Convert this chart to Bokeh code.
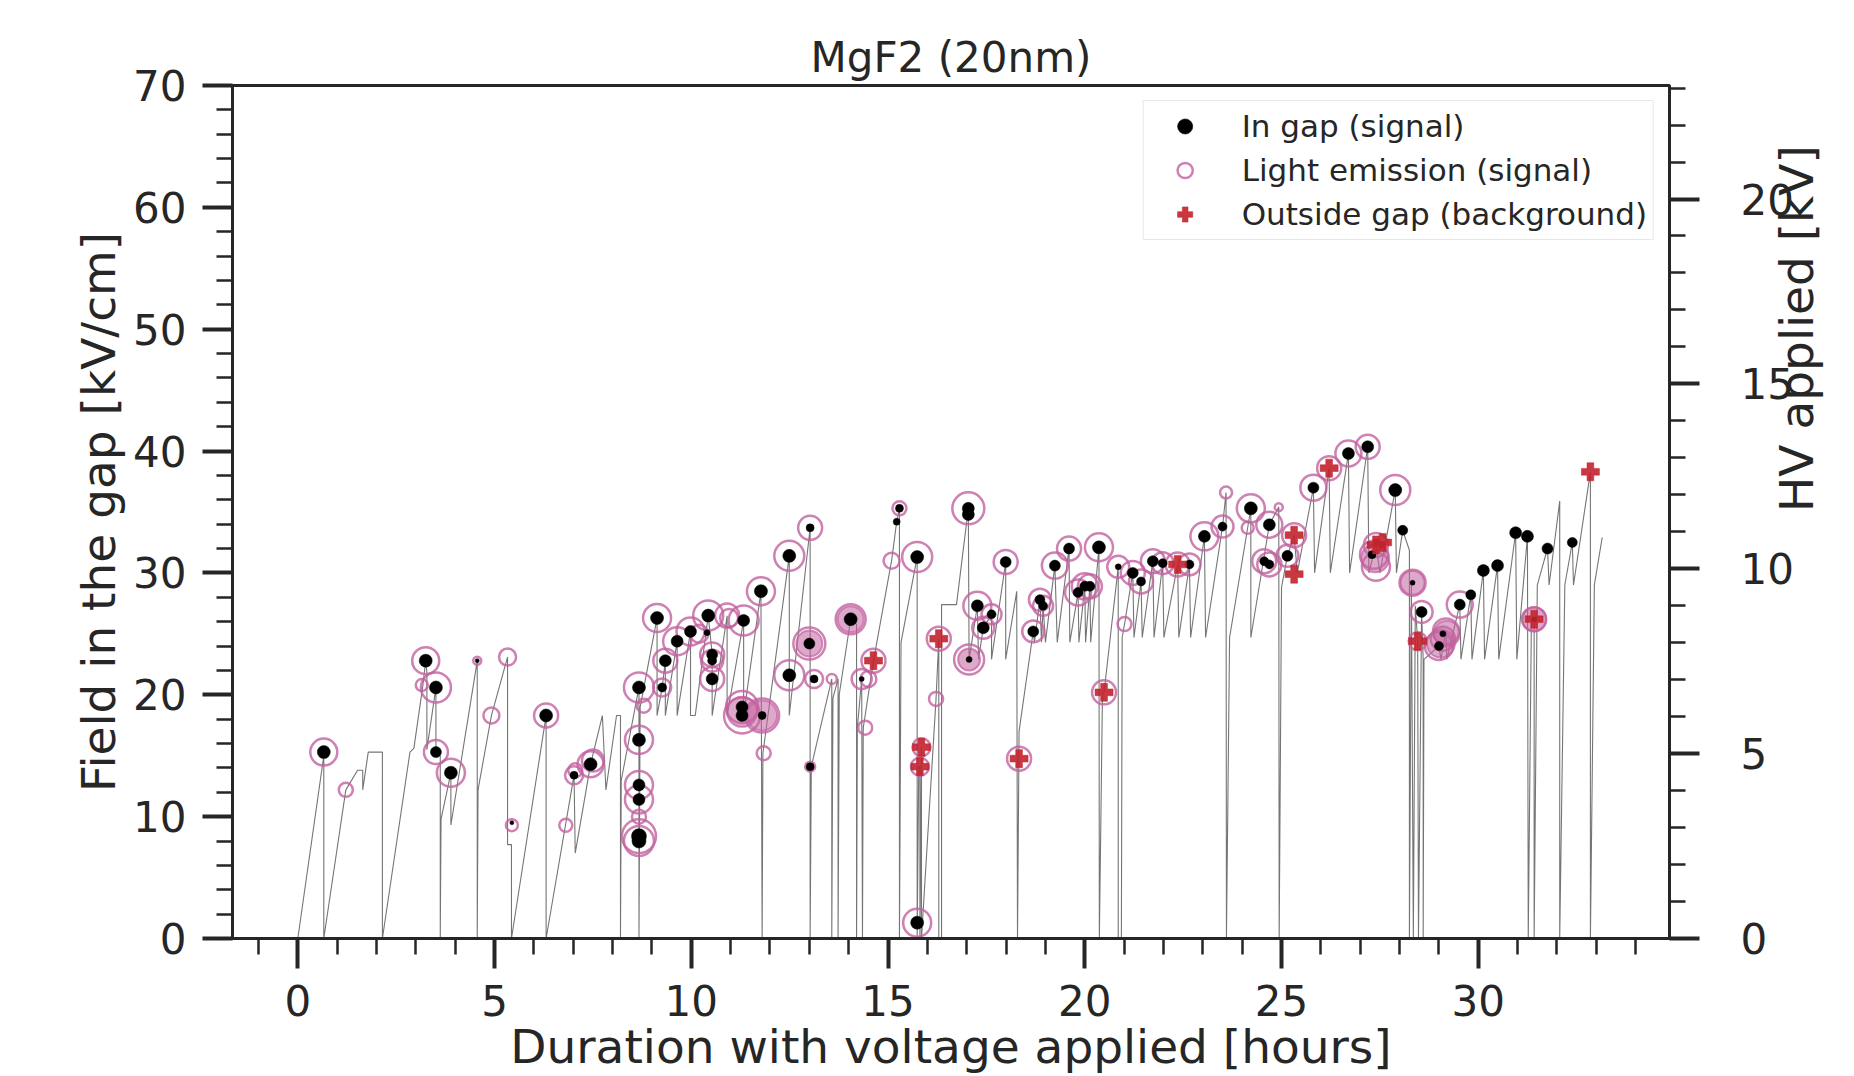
import math
from bokeh.plotting import figure
from bokeh.models import (Range1d, LinearAxis, SingleIntervalTicker, FixedTicker, Legend,
                          LegendItem)
from bokeh.embed import file_html
from bokeh.resources import INLINE

# ---------------- data ----------------
# HV trace: hours, kV
hv_hours = [0.00, 0.66, 0.66, 1.22, 1.52, 1.65, 1.65, 1.79, 2.15, 2.15, 2.85, 2.95, 3.18, 3.25,
            3.28, 3.28, 3.51, 3.51, 3.62, 3.62, 3.64, 3.89, 3.89, 4.56, 4.56, 4.58, 4.92, 5.33,
            5.33, 5.43, 5.43, 6.31, 6.31, 7.02, 7.05, 7.44, 7.74, 7.83, 8.10, 8.20, 8.20, 8.22,
            8.67, 8.67, 8.70, 9.13, 9.13, 9.26, 9.34, 9.34, 9.64, 9.64, 9.98, 9.98, 10.10, 10.43,
            10.53, 10.53, 10.91, 10.91, 11.33, 11.33, 11.77, 11.80, 11.82, 12.49, 12.49, 13.02,
            13.02, 13.05, 13.57, 13.57, 13.60, 13.73, 13.73, 13.76, 14.05, 14.20, 14.20, 14.22,
            14.33, 14.35, 14.37, 14.63, 15.09, 15.22, 15.29, 15.29, 15.33, 15.74, 15.74, 15.78,
            15.81, 15.81, 15.85, 15.85, 16.22, 16.29, 16.29, 16.36, 16.36, 16.74, 17.04, 17.06,
            17.27, 17.30, 17.42, 17.63, 17.63, 17.99, 17.99, 18.27, 18.29, 18.33, 18.69, 18.72,
            18.86, 18.90, 18.94, 19.00, 19.24, 19.30, 19.60, 19.62, 19.83, 19.85, 20.00, 20.02,
            20.13, 20.15, 20.36, 20.37, 20.45, 20.49, 20.85, 20.85, 20.93, 20.95, 21.01, 21.22,
            21.25, 21.43, 21.46, 21.73, 21.76, 21.98, 22.01, 22.36, 22.39, 22.66, 22.69, 23.04,
            23.07, 23.50, 23.59, 23.60, 23.68, 24.22, 24.22, 24.69, 24.93, 24.94, 25.00, 25.15,
            25.32, 25.40, 25.81, 25.84, 26.21, 26.24, 26.70, 26.73, 27.19, 27.22, 27.40, 27.50,
            27.89, 27.92, 28.08, 28.25, 28.25, 28.30, 28.35, 28.40, 28.46, 28.48, 28.56, 28.60,
            28.60, 28.62, 29.00, 29.05, 29.18, 29.20, 29.53, 29.56, 29.81, 29.84, 30.13, 30.16,
            30.49, 30.52, 30.95, 30.98, 31.25, 31.27, 31.35, 31.42, 31.42, 31.50, 31.76, 31.80,
            32.07, 32.07, 32.20, 32.39, 32.42, 32.85, 32.85, 32.95, 33.15]
hv_kv = [0.00, 4.94, 0.00, 4.02, 4.55, 4.55, 4.02, 5.04, 5.04, 0.00, 5.04, 5.14, 6.86, 7.51,
         7.20, 5.11, 6.79, 5.04, 4.94, 0.00, 3.23, 4.48, 3.07, 7.51, 0.00, 4.02, 6.03, 7.61,
         2.54, 2.54, 0.00, 6.03, 0.00, 4.42, 2.31, 4.71, 6.03, 4.02, 6.03, 6.03, 0.00, 4.28,
         6.79, 0.00, 6.26, 8.67, 6.03, 6.79, 7.51, 6.03, 8.04, 6.03, 8.31, 6.03, 6.03, 8.73,
         7.70, 6.03, 8.73, 6.03, 8.60, 6.03, 9.39, 0.00, 5.01, 10.35, 6.03, 11.11,
         0.00, 4.65, 7.02, 0.00, 6.50, 7.02, 0.00, 6.60, 8.64, 8.50, 0.00, 5.70,
         7.02, 0.00, 5.70, 7.51, 10.22, 11.27, 11.63, 0.00, 8.01, 10.32, 0.00, 4.65,
         4.65, 0.00, 5.17, 0.00, 6.48, 8.11, 0.00, 0.00, 9.03, 9.03, 11.63, 7.55,
         9.00, 7.55, 8.40, 8.77, 7.55, 10.18, 7.55, 9.39, 0.00, 5.60, 8.31, 8.01,
         9.16, 8.01, 9.00, 8.01, 10.09, 8.01, 10.55, 8.01, 9.36, 8.01, 9.53, 8.01,
         9.53, 8.01, 10.58, 0.00, 6.66, 6.66, 10.05, 0.00, 0.00, 8.14, 8.50, 9.89,
         8.14, 9.66, 8.14, 10.22, 8.14, 10.15, 8.14, 10.12, 8.14, 10.12, 8.14, 10.88,
         8.14, 11.14, 12.06, 0.00, 8.14, 11.63, 8.14, 11.19, 11.67, 0.00, 9.50, 10.35,
         10.91, 9.89, 12.19, 9.89, 12.72, 9.89, 13.12, 9.89, 13.30, 9.89, 10.65, 9.89,
         12.13, 9.89, 11.04, 10.50, 0.00, 9.60, 0.00, 9.00, 8.04, 0.00, 8.83, 7.55,
         0.00, 7.55, 7.91, 7.55, 8.31, 7.55, 9.03, 7.55, 9.29, 7.55, 9.95, 7.55,
         10.09, 7.55, 10.98, 7.55, 10.88, 0.00, 8.60, 8.64, 0.00, 9.56, 10.55, 9.56,
         11.83, 0.00, 9.56, 10.71, 9.56, 12.62, 0.00, 9.56, 10.85]

# In gap (signal): hours, field [kV/cm], marker size
gap_hours = [0.66, 3.25, 3.51, 3.51, 3.89, 4.56, 5.44, 6.31, 7.02, 7.44, 8.67, 8.67, 8.67, 8.67,
             8.67, 8.67, 9.13, 9.26, 9.34, 9.64, 9.98, 10.43, 10.40, 10.53, 10.53, 10.53, 11.33,
             11.29, 11.29, 11.80, 11.77, 12.49, 12.49, 13.02, 13.00, 13.12, 13.02, 14.05, 14.33,
             15.29, 15.22, 15.74, 15.74, 17.04, 17.04, 17.06, 17.27, 17.42, 17.63, 17.99, 18.69,
             18.86, 18.94, 19.24, 19.60, 19.83, 20.00, 20.13, 20.36, 20.85, 21.22, 21.43, 21.73,
             21.98, 22.66, 23.04, 23.50, 24.22, 24.69, 24.56, 24.69, 25.15, 25.81, 26.70, 27.19,
             27.30, 27.89, 28.08, 28.33, 28.56, 29.00, 29.10, 29.53, 29.81, 30.13, 30.49, 30.95,
             31.25, 31.42, 31.76, 32.39]
gap_field = [15.3, 22.8, 20.6, 15.3, 13.6, 22.8, 9.5, 18.3, 13.4, 14.3, 20.6, 16.3, 12.6, 11.4,
             8.4, 8.0, 26.3, 20.6, 22.8, 24.4, 25.2, 26.5, 25.1, 23.3, 22.8, 21.3, 26.1,
             19.0, 18.3, 18.3, 28.5, 31.4, 21.6, 33.7, 24.2, 21.3, 14.1, 26.2, 21.3,
             35.3, 34.2, 31.3, 1.3, 35.3, 34.8, 22.9, 27.3, 25.5, 26.6, 30.9, 25.2,
             27.8, 27.3, 30.6, 32.0, 28.4, 28.9, 28.9, 32.1, 30.5, 30.0, 29.3, 30.96,
             30.8, 30.7, 33.0, 33.8, 35.3, 33.95, 30.96, 30.7, 31.4, 37.0, 39.8, 40.35,
             31.5, 36.8, 33.5, 29.2, 26.8, 24.0, 25.0, 27.4, 28.2, 30.2, 30.6, 33.3,
             33.0, 26.2, 32.0, 32.5]
gap_size = [13, 13, 13, 11, 13, 4, 4, 13, 8, 13, 13, 13, 12, 12,
            15, 14, 13, 9, 12, 12, 12, 13, 6, 11, 9, 12, 12,
            12, 12, 8, 13, 13, 13, 8, 11, 8, 8, 13, 5,
            8, 7, 13, 13, 12, 12, 6, 12, 12, 9, 11, 11,
            10, 9, 11, 11, 10, 10, 10, 13, 6, 11, 9, 11,
            9, 9, 12, 9, 13, 12, 9, 9, 11, 11, 12, 12,
            8, 13, 10, 5, 11, 9, 6, 11, 10, 12, 12, 12,
            12, 5, 11, 10]

# Light emission (signal): hours, field, marker size
light_hours = [0.66, 1.22, 3.25, 3.15, 3.51, 3.51, 3.89, 4.56, 4.92, 5.33, 5.44, 6.31, 6.81, 7.02,
               7.05, 7.44, 7.50, 8.67, 8.79, 8.67, 8.67, 8.67, 8.67, 8.67, 8.67, 9.13, 9.26, 9.34,
               9.64, 9.98, 10.20, 10.43, 10.53, 10.53, 10.53, 10.91, 10.96, 11.33, 11.29, 11.29,
               11.80, 11.84, 11.77, 12.49, 12.49, 13.02, 13.00, 13.12, 13.02, 13.57, 14.05, 14.33,
               14.42, 14.63, 14.50, 15.09, 15.29, 15.74, 15.74, 15.85, 15.81, 16.22, 16.29, 17.04,
               17.06, 17.27, 17.42, 17.63, 17.99, 18.33, 18.69, 18.86, 18.94, 19.24, 19.60, 19.83,
               20.00, 20.13, 20.36, 20.49, 20.85, 21.01, 21.22, 21.43, 21.73, 21.98, 22.36, 22.66,
               23.04, 23.50, 23.59, 24.14, 24.22, 24.56, 24.69, 24.69, 24.93, 25.15, 25.32, 25.81,
               26.21, 26.70, 27.19, 27.35, 27.40, 27.40, 27.89, 28.33, 28.56, 28.46, 29.00, 29.18,
               29.10, 29.53, 31.42]
light_field = [15.3, 12.2, 22.8, 20.8, 20.6, 15.3, 13.6, 22.8, 18.3, 23.1, 9.3, 18.3, 9.3, 13.4,
               13.8, 14.3, 14.6, 20.6, 19.1, 16.3, 12.6, 11.4, 10.0, 8.4, 8.0, 26.3, 20.6, 22.8,
               24.4, 25.2, 25.0, 26.5, 23.3, 22.8, 21.3, 26.5, 26.3, 26.1, 19.0, 18.3,
               18.3, 15.2, 28.5, 31.4, 21.6, 33.7, 24.2, 21.3, 14.1, 21.3, 26.2, 21.3,
               17.3, 22.8, 21.3, 31.0, 35.3, 31.3, 1.3, 15.7, 14.1, 19.66, 24.6, 35.3,
               22.9, 27.3, 25.5, 26.6, 30.9, 14.76, 25.2, 27.8, 27.3, 30.6, 32.0, 28.4,
               28.9, 28.9, 32.1, 20.2, 30.5, 25.8, 30.0, 29.3, 30.96, 30.8, 30.7, 30.7,
               33.0, 33.8, 36.6, 33.7, 35.3, 30.96, 33.95, 30.7, 35.4, 31.4, 33.1, 37.0,
               38.6, 39.8, 40.35, 31.5, 30.5, 32.3, 36.8, 29.2, 26.8, 24.4, 24.0, 25.2,
               24.6, 27.4, 26.2]
light_size = [27, 14, 27, 12, 30, 24, 28, 8, 16, 17, 12, 24, 13, 18,
              14, 26, 22, 30, 14, 28, 28, 28, 14, 34, 30, 28, 18, 24,
              28, 28, 18, 30, 24, 22, 24, 24, 18, 30, 32, 36,
              34, 14, 28, 30, 30, 24, 32, 18, 10, 10, 30, 20,
              14, 24, 16, 16, 14, 30, 28, 18, 18, 14, 24, 32,
              30, 28, 22, 20, 24, 24, 22, 22, 20, 26, 24, 26,
              26, 24, 28, 24, 22, 14, 24, 24, 24, 22, 24, 22,
              28, 22, 12, 12, 28, 24, 26, 24, 8, 22, 24, 26,
              24, 26, 24, 28, 28, 24, 30, 26, 22, 18, 28, 26,
              24, 26, 24]

# Strong light emission blobs (filled appearance)
blob_hours = [11.29, 11.80, 13.00, 14.05, 17.06, 27.38, 28.33, 29.05, 29.20, 31.42]
blob_field = [18.6, 18.3, 24.2, 26.2, 22.9, 31.2, 29.2, 24.2, 25.0, 26.2]
blob_size = [30, 30, 26, 26, 22, 28, 24, 28, 26, 24]

# Outside gap (background)
bg_hours = [14.63, 15.85, 15.81, 16.29, 18.33, 20.49, 22.36, 25.32, 25.32, 26.21, 27.40, 27.57,
            28.46, 31.42, 32.85]
bg_field = [22.8, 15.7, 14.1, 24.6, 14.76, 20.2, 30.7, 33.1, 29.9, 38.6, 32.3, 32.5,
            24.4, 26.2, 38.3]

# ---------------- figure ----------------
FONT = "DejaVu Sans"
TXT = "#262626"
PINK = "#c2619f"
RED = "#c3222b"

p = figure(width=1854, height=1076, x_range=Range1d(-1.66, 34.86), y_range=Range1d(0, 70),
           output_backend="svg", toolbar_location=None, title="MgF2 (20nm)",
           min_border_left=232, min_border_right=184, min_border_top=85, min_border_bottom=134)
p.extra_y_ranges = {"hv": Range1d(0, 23.07)}

p.title.align = "center"
p.title.text_font = FONT
p.title.text_font_size = "42px"
p.title.text_font_style = "normal"
p.title.text_color = TXT
p.title.standoff = 8

p.grid.visible = False
p.outline_line_color = TXT
p.outline_line_width = 3
p.background_fill_color = "white"
p.border_fill_color = "white"

def style_axis(ax, label_standoff, axis_label_standoff):
    ax.axis_line_color = TXT
    ax.axis_line_width = 3
    ax.major_tick_line_color = TXT
    ax.major_tick_line_width = 4
    ax.minor_tick_line_color = TXT
    ax.minor_tick_line_width = 2.5
    ax.major_tick_out = 30
    ax.major_tick_in = 0
    ax.minor_tick_out = 16
    ax.minor_tick_in = 0
    ax.major_label_text_font = FONT
    ax.major_label_text_font_size = "42px"
    ax.major_label_text_color = TXT
    ax.major_label_standoff = label_standoff
    ax.axis_label_text_font = FONT
    ax.axis_label_text_font_size = "47px"
    ax.axis_label_text_font_style = "normal"
    ax.axis_label_text_color = TXT
    ax.axis_label_standoff = axis_label_standoff

def bare(ax):
    ax.axis_line_color = None
    ax.major_tick_line_color = None
    ax.minor_tick_line_color = None
    ax.major_tick_out = 0
    ax.minor_tick_out = 0

xa = p.xaxis[0]
xa.ticker = SingleIntervalTicker(interval=5, num_minor_ticks=5)
xa.axis_label = "Duration with voltage applied [hours]"
style_axis(xa, 16, 0)

ya = p.yaxis[0]
ya.ticker = SingleIntervalTicker(interval=10, num_minor_ticks=5)
ya.axis_label = "Field in the gap [kV/cm]"
style_axis(ya, 16, 4)

# right side: tick marks, then numbers, then title (stacked outward)
ra_ticks = LinearAxis(y_range_name="hv",
                      ticker=SingleIntervalTicker(interval=5, num_minor_ticks=5))
style_axis(ra_ticks, 0, 0)
ra_ticks.major_label_text_font_size = "1px"
ra_ticks.major_label_text_alpha = 0
p.add_layout(ra_ticks, "right")

ra_nums = LinearAxis(y_range_name="hv",
                     ticker=SingleIntervalTicker(interval=5, num_minor_ticks=5))
style_axis(ra_nums, 41, 0)
bare(ra_nums)
p.add_layout(ra_nums, "right")

ra_title = LinearAxis(y_range_name="hv", ticker=FixedTicker(ticks=[]),
                      axis_label="HV applied [kV]")
style_axis(ra_title, 0, 0)
bare(ra_title)
ra_title.axis_label_orientation = math.pi / 2
p.add_layout(ra_title, "right")

# HV trace
p.line(hv_hours, hv_kv, y_range_name="hv", line_color="#666666", line_width=1.1, line_alpha=0.9)

# markers
p.scatter(blob_hours, blob_field, size=blob_size, marker="circle",
          fill_color=PINK, fill_alpha=0.55, line_color=PINK, line_alpha=0.7, line_width=2)
r_light = p.scatter(light_hours, light_field, size=light_size, marker="circle",
                    fill_alpha=0, line_color=PINK, line_alpha=0.8, line_width=2.5)
r_gap = p.scatter(gap_hours, gap_field, size=gap_size, marker="circle",
                  fill_color="black", line_color="black", line_width=0.5)
r_bg = p.scatter(bg_hours, bg_field, size=18, marker="plus",
                 fill_color=RED, line_color=RED, line_width=0.5, fill_alpha=0.9)

legend = Legend(items=[LegendItem(label="In gap (signal)", renderers=[r_gap]),
                       LegendItem(label="Light emission (signal)", renderers=[r_light]),
                       LegendItem(label="Outside gap (background)", renderers=[r_bg])],
                location="top_right")
legend.margin = 15
legend.padding = 6
legend.spacing = 6
legend.glyph_width = 70
legend.glyph_height = 38
legend.label_height = 38
legend.label_standoff = 22
legend.label_text_font = FONT
legend.label_text_font_size = "31px"
legend.label_text_color = TXT
legend.border_line_color = "#d0d0d0"
legend.border_line_width = 1.5
legend.background_fill_alpha = 0.85
p.add_layout(legend)

open("out.html", "w").write(file_html(p, INLINE))
